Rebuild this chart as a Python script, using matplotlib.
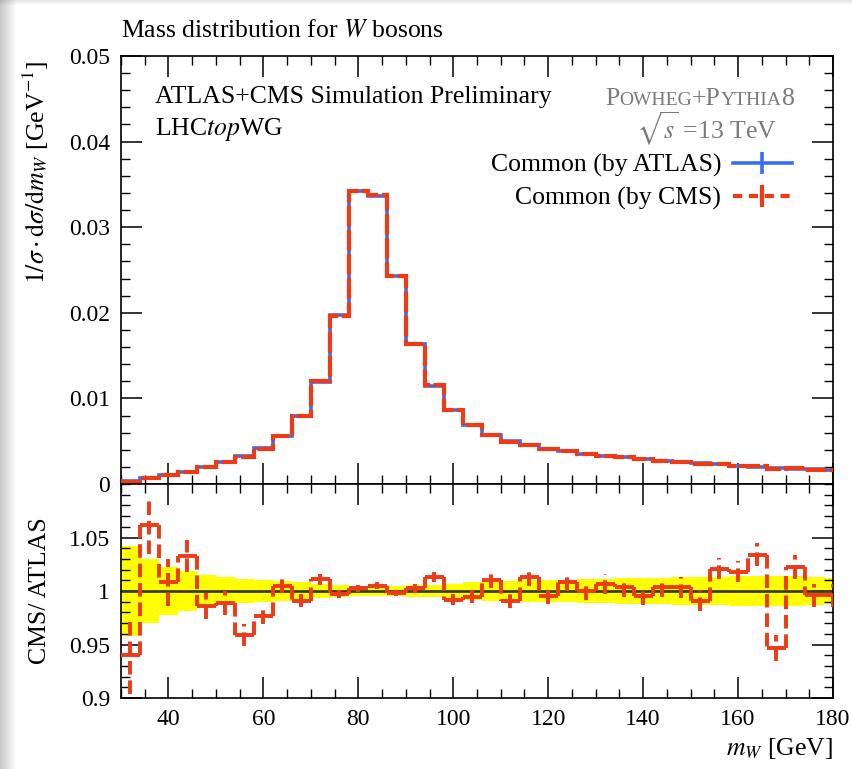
import numpy as np
import matplotlib
matplotlib.use("Agg")
import matplotlib.pyplot as plt
from matplotlib.lines import Line2D
from matplotlib.ticker import MultipleLocator

# binning of the W mass histogram (4 GeV bins, last one cut at 180)
edges = np.arange(30, 183, 4)

# normalised distribution, ATLAS common sample
atlas_vals = [0.0003, 0.0007, 0.0010, 0.0014, 0.0020, 0.0026, 0.0033, 0.0042,
              0.0056, 0.0080, 0.0119, 0.0197, 0.0342, 0.0336, 0.0243, 0.0163,
              0.0114, 0.0087, 0.0069, 0.0057, 0.0050, 0.0045, 0.0041, 0.0038,
              0.0035, 0.0033, 0.0031, 0.0029, 0.0027, 0.0026, 0.0024, 0.0023,
              0.0021, 0.0020, 0.0019, 0.0018, 0.0017, 0.0016]

# CMS / ATLAS ratio and its stat. error
ratio = [0.940, 1.062, 1.008, 1.033, 0.986, 0.989, 0.959, 0.977,
         1.005, 0.991, 1.011, 0.997, 1.0025, 1.005, 0.998, 1.0025,
         1.013, 0.992, 0.9945, 1.010, 0.991, 1.013, 0.9955, 1.008,
         1.000, 1.0065, 1.0035, 0.9955, 1.0035, 1.0035, 0.991, 1.021,
         1.018, 1.034, 0.947, 1.0225, 0.996, 0.996]
ratio_err = [0.036, 0.027, 0.022, 0.015, 0.012, 0.011, 0.010, 0.008,
             0.007, 0.006, 0.005, 0.004, 0.003, 0.003, 0.003, 0.004,
             0.005, 0.005, 0.006, 0.007, 0.007, 0.008, 0.008, 0.008,
             0.008, 0.009, 0.009, 0.009, 0.009, 0.010, 0.010, 0.010,
             0.010, 0.011, 0.012, 0.011, 0.011, 0.011]

# relative uncertainty of the ATLAS reference (yellow band)
atlas_band = [0.042, 0.030, 0.022, 0.019, 0.015, 0.013, 0.011, 0.010,
              0.009, 0.008, 0.007, 0.006, 0.005, 0.005, 0.005, 0.006,
              0.006, 0.007, 0.008, 0.009, 0.009, 0.010, 0.010, 0.010,
              0.011, 0.011, 0.012, 0.012, 0.012, 0.013, 0.013, 0.013,
              0.014, 0.014, 0.014, 0.014, 0.013, 0.012]

BLUE = "#3a6cf4"
RED = "#ee3a16"
GRAY = "#7a7a7a"
FS = 18.5
DASH = (0, (3.5, 1.5))

plt.rcParams["font.family"] = ["Liberation Serif", "DejaVu Serif"]
plt.rcParams["mathtext.fontset"] = "stix"

atlas_vals = np.array(atlas_vals)
ratio = np.array(ratio)
ratio_err = np.array(ratio_err)
atlas_band = np.array(atlas_band)
cms_vals = atlas_vals * ratio
centers = 0.5 * (edges[:-1] + edges[1:])

W, H = 853, 769
fig = plt.figure(figsize=(W / 100, H / 100), dpi=100)


def px_axes(left, top, right, bottom):
    return fig.add_axes([left / W, 1 - bottom / H, (right - left) / W, (bottom - top) / H])


# soft shadow along the left and top border
bg = fig.add_axes([0, 0, 1, 1], zorder=-5)
xs = np.arange(W)
shade = np.ones((H, W))
left = np.clip(xs / 16.0, 0, 1)
shade *= (0.78 + 0.22 * left)[None, :]
ys = np.arange(H)
top = np.clip(ys / 5.0, 0, 1)
shade *= (0.90 + 0.10 * top)[:, None]
bg.imshow(shade, cmap="gray", vmin=0, vmax=1, aspect="auto", interpolation="bilinear")
bg.axis("off")

ax = px_axes(121, 56, 833, 484)
rax = px_axes(121, 484, 833, 698)

# main panel
ax.stairs(atlas_vals, edges, baseline=None, color=BLUE, lw=2.6, zorder=3)
ax.stairs(cms_vals, edges, baseline=None, color=RED, lw=3.0, zorder=4,
          linestyle=(0, (5, 0.8)))
ax.set_xlim(30, 180)
ax.set_ylim(0, 0.05)
ax.set_yticks([0, 0.01, 0.02, 0.03, 0.04, 0.05])
ax.set_yticklabels(["0", "0.01", "0.02", "0.03", "0.04", "0.05"])
ax.yaxis.set_minor_locator(MultipleLocator(0.002))
ax.xaxis.set_major_locator(MultipleLocator(20))
ax.xaxis.set_minor_locator(MultipleLocator(5))
ax.tick_params(labelbottom=False)
ax.set_ylabel(r"$1/\sigma \cdot \mathrm{d}\sigma/\mathrm{d}m_W$ [GeV$^{-1}$]",
              fontsize=FS, loc="top")
ax.yaxis.set_label_coords(-0.098, 0.99)
ax.set_title(r"Mass distribution for $W$ bosons", loc="left", fontsize=FS, pad=14)

ax.text(0.048, 0.890, "ATLAS+CMS Simulation Preliminary", transform=ax.transAxes,
        fontsize=FS, va="baseline")
ax.text(0.048, 0.815, r"LHC$\mathit{top}$WG", transform=ax.transAxes,
        fontsize=FS, va="baseline")

# generator name in small caps
parts = [("P", FS), ("OWHEG", 14), ("+P", FS), ("YTHIA", 14), ("8", FS)]
t = ax.text(0.680, 0.885, parts[0][0], transform=ax.transAxes, fontsize=parts[0][1],
            color=GRAY, va="baseline", ha="left")
for s, size in parts[1:]:
    t = ax.annotate(s, xy=(1, 0.885), xycoords=(t, "axes fraction"), fontsize=size,
                    color=GRAY, va="baseline", ha="left")
ax.text(0.822, 0.806, r"$\sqrt{s}$ =13 TeV", transform=ax.transAxes, fontsize=FS,
        color=GRAY, va="baseline", ha="center")

handles = [
    Line2D([], [], color=BLUE, lw=2.6, marker="|", markersize=16, markeredgewidth=2.6),
    Line2D([], [], color=RED, lw=3.0, linestyle=(0, (2.2, 1.6)), marker="|",
           markersize=16, markeredgewidth=3.0),
]
ax.legend(handles, ["Common (by ATLAS)", "Common (by CMS)"], loc="upper right",
          bbox_to_anchor=(0.9424, 0.772), markerfirst=False, frameon=False,
          fontsize=FS, borderpad=0, borderaxespad=0, handlelength=2.3,
          handletextpad=0.45, labelspacing=0.38, numpoints=1)

# ratio panel
rax.stairs(1 + atlas_band, edges, baseline=1 - atlas_band, fill=True,
           color="#ffff00", lw=0, zorder=1)
rax.stairs(np.ones_like(ratio), edges, baseline=None, color="#3b3b22", lw=2.0, zorder=2)
# dashed connectors between neighbouring bins, solid bars across each bin
rax.vlines(edges[1:-1], ratio[:-1], ratio[1:], color=RED, lw=2.8, zorder=3,
           linestyles=[DASH])
eb = rax.errorbar(centers, ratio, xerr=2, yerr=ratio_err, fmt="none", ecolor=RED,
                  elinewidth=2.8, zorder=3)
eb[2][1].set_linestyle(DASH)
rax.set_xlim(30, 180)
rax.set_ylim(0.9, 1.1)
rax.set_yticks([0.9, 0.95, 1.0, 1.05])
rax.set_yticklabels(["0.9", "0.95", "1", "1.05"])
rax.yaxis.set_minor_locator(MultipleLocator(0.01))
rax.xaxis.set_major_locator(MultipleLocator(20))
rax.xaxis.set_minor_locator(MultipleLocator(5))
rax.set_ylabel("CMS/ ATLAS", fontsize=FS)
rax.yaxis.set_label_coords(-0.098, 0.5)
rax.set_xlabel(r"$m_W$ [GeV]", fontsize=FS, loc="right", labelpad=4)

for a in (ax, rax):
    a.tick_params(which="both", direction="in", top=True, right=True, labelsize=17)
    a.tick_params(which="major", length=15, width=1.1, pad=8)
    a.tick_params(which="minor", length=6.5, width=1.0)
    for sp in a.spines.values():
        sp.set_linewidth(1.2)

fig.savefig("out.png", dpi=100)
